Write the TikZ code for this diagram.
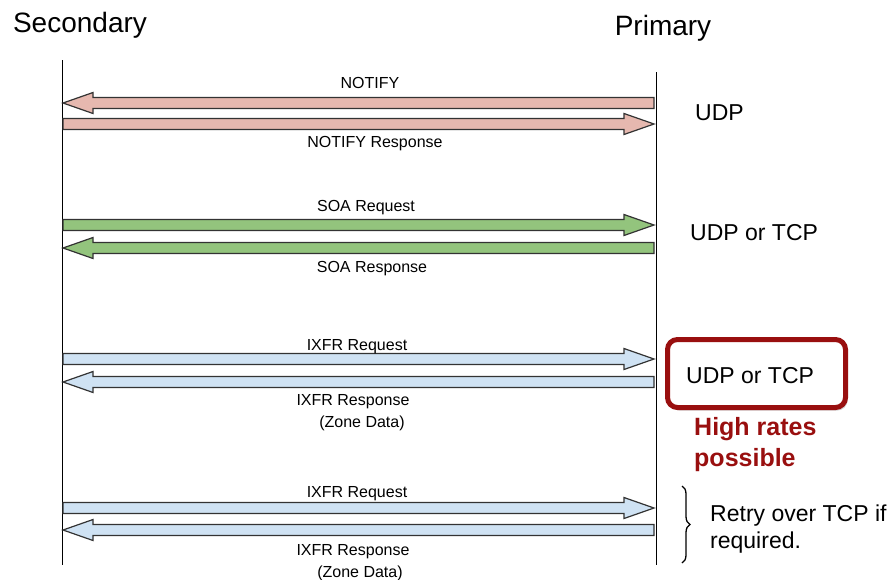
\documentclass[tikz,border=0pt]{standalone}
\usepackage{fontspec}
\setmainfont{Liberation Sans}
\usetikzlibrary{calc,shadows,decorations.pathreplacing}
\definecolor{notifyfill}{HTML}{E6B8AF}
\definecolor{soafill}{HTML}{93C47D}
\definecolor{ixfrfill}{HTML}{CFE2F3}
\definecolor{hotred}{HTML}{990F0F}
\newcommand{\fatarrow}[3]{%
  \coordinate (h) at ($(#3)!30pt!(#2)$);
  \draw[message, fill=#1] ($(#2)!5.5pt!90:(#3)$) -- ($(h)!5.5pt!90:(#3)$)
    -- ($(h)!10.5pt!90:(#3)$) -- (#3) -- ($(h)!10.5pt!-90:(#3)$)
    -- ($(h)!5.5pt!-90:(#3)$) -- ($(#2)!5.5pt!-90:(#3)$) -- cycle;}
\begin{document}
\begin{tikzpicture}[x=1pt,y=-1pt,
    title/.style ={anchor=base, font=\fontsize{28}{32}\selectfont},
    msglabel/.style ={anchor=base, font=\fontsize{16}{19}\selectfont, inner sep=0pt},
    note/.style ={anchor=base west, font=\fontsize{23}{27}\selectfont, inner sep=0pt},
    message/.style ={draw=black!80, line width=1.2pt, line join=miter},
    lifeline/.style ={draw, line width=1pt}]
   \useasboundingbox (0,0) rectangle (890,579);
   \node[title] (sec) at (80,32) {Secondary};
   \node[title] (pri) at (663,35) {Primary};
   \coordinate (stop) at (62,60);
   \coordinate (sbot) at (62,565);
   \coordinate (ptop) at (656,72);
   \coordinate (pbot) at (656,565);
   \draw[lifeline] (stop) -- (sbot);
   \draw[lifeline] (ptop) -- (pbot);
   \coordinate (s1) at (63,103);  \coordinate (p1) at (654,103);
   \coordinate (s2) at (63,124);  \coordinate (p2) at (654,124);
   \coordinate (s3) at (63,225);  \coordinate (p3) at (654,225);
   \coordinate (s4) at (63,248);  \coordinate (p4) at (654,248);
   \coordinate (s5) at (63,359);  \coordinate (p5) at (654,359);
   \coordinate (s6) at (63,382);  \coordinate (p6) at (654,382);
   \coordinate (s7) at (63,508);  \coordinate (p7) at (654,508);
   \coordinate (s8) at (63,530);  \coordinate (p8) at (654,530);
   \fatarrow{notifyfill}{p1}{s1}
   \fatarrow{notifyfill}{s2}{p2}
   \fatarrow{soafill}{s3}{p3}
   \fatarrow{soafill}{p4}{s4}
   \fatarrow{ixfrfill}{s5}{p5}
   \fatarrow{ixfrfill}{p6}{s6}
   \fatarrow{ixfrfill}{s7}{p7}
   \fatarrow{ixfrfill}{p8}{s8}
   \node[msglabel] (l1) at (370,88) {NOTIFY};
   \node[msglabel] (l2) at (375,147) {NOTIFY Response};
   \node[msglabel] (l3) at (366,211) {SOA Request};
   \node[msglabel] (l4) at (372,272) {SOA Response};
   \node[msglabel] (l5) at (357,350) {IXFR Request};
   \node[msglabel] (l6) at (353,405) {IXFR Response};
   \node[msglabel] (l6b) at (362,427) {(Zone Data)};
   \node[msglabel] (l7) at (357,497) {IXFR Request};
   \node[msglabel] (l8) at (353,555) {IXFR Response};
   \node[msglabel] (l8b) at (360,577) {(Zone Data)};
   \node[note] (udp) at (695,120) {UDP};
   \node[note] (soaproto) at (690,240) {UDP or TCP};
   \draw[hotred, fill=white, line width=5pt, rounded corners=10pt,
     drop shadow={shadow xshift=2pt, shadow yshift=-3pt, opacity=0.35}]
     (667.5,339.5) rectangle (845.5,407.5);
   \node[note] (ixfrproto) at (686,383) {UDP or TCP};
   \node[note, text=hotred, font=\fontsize{25}{31}\selectfont\bfseries,
     align=left, anchor=north west] (rates) at (694,417) {High rates\\possible};
   \coordinate (btop) at (682,486);
   \coordinate (bbot) at (682,563);
   \draw[line width=1.3pt, decorate, decoration={brace, amplitude=8pt}] (btop) -- (bbot);
   \node[note, align=left, anchor=north west] (retry) at (710,505) {Retry over TCP if\\required.};
\end{tikzpicture}
\end{document}
